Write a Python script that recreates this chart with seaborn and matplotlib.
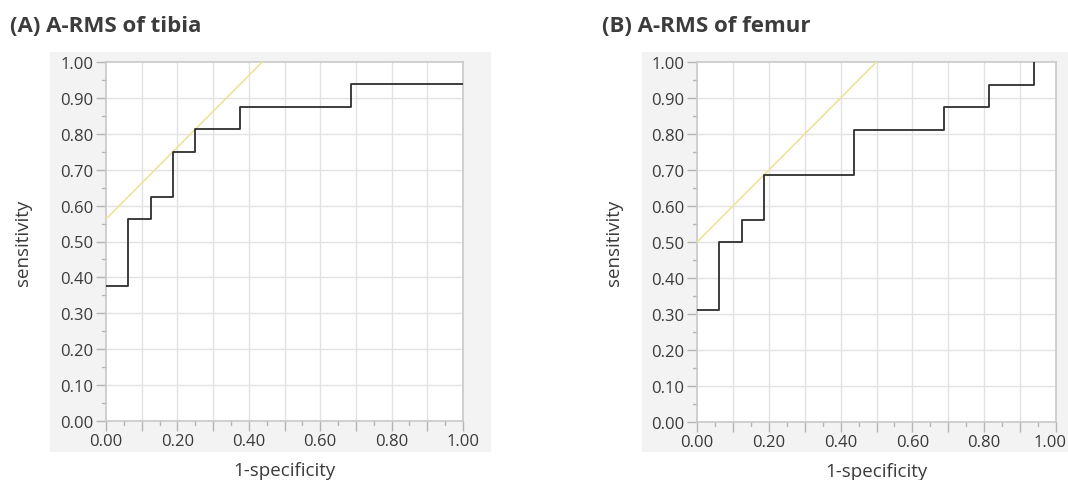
import numpy as np
import pandas as pd
import matplotlib
matplotlib.use("Agg")
import matplotlib.pyplot as plt
import matplotlib.transforms as mtransforms
import seaborn as sns
from matplotlib.ticker import FixedLocator
from matplotlib.patches import Rectangle

# ROC step points (1-specificity, sensitivity)
tibia_fpr = [0.0, 0.0625, 0.125, 0.1875, 0.25, 0.375, 0.6875, 1.0]
tibia_tpr = [0.375, 0.5625, 0.625, 0.75, 0.8125, 0.875, 0.9375, 0.9375]
femur_fpr = [0.0, 0.0625, 0.125, 0.1875, 0.4375, 0.6875, 0.8125, 0.9375]
femur_tpr = [0.3125, 0.5, 0.5625, 0.6875, 0.8125, 0.875, 0.9375, 1.0]

# tangent (slope 1) lines
tibia_tan_x = [0.0, 0.4375]
tibia_tan_y = [0.5625, 1.0]
femur_tan_x = [0.0, 0.5]
femur_tan_y = [0.5, 1.0]

titles = ["(A) A-RMS of tibia", "(B) A-RMS of femur"]
x_ticks = [0.0, 0.2, 0.4, 0.6, 0.8, 1.0]
y_ticks = [0.0, 0.1, 0.2, 0.3, 0.4, 0.5, 0.6, 0.7, 0.8, 0.9, 1.0]

sns.set_theme(style="white")
plt.rcParams['font.family'] = ['Open Sans', 'DejaVu Sans']

W, H = 1068, 481
fig = plt.figure(figsize=(W / 100, H / 100), dpi=100)

# gray panels behind each plot
for x0, x1 in [(50, 490), (642, 1068)]:
    rect = Rectangle((x0 / W, 1 - 452 / H), (x1 - x0) / W, (452 - 53) / H,
                     transform=fig.transFigure, color="#f3f3f3", zorder=-5)
    fig.add_artist(rect)

ax_a = fig.add_axes([106 / W, 1 - 422 / H, 357 / W, 359 / H])
ax_b = fig.add_axes([697 / W, 1 - 423 / H, 359 / W, 360 / H])

panels = [
    (ax_a, tibia_fpr, tibia_tpr, tibia_tan_x, tibia_tan_y, 10),
    (ax_b, femur_fpr, femur_tpr, femur_tan_x, femur_tan_y, 602),
]

text_col = "#3a3a3a"
for i, (ax, fx, fy, tx, ty, title_x) in enumerate(panels):
    df = pd.DataFrame({"fpr": fx, "tpr": fy})
    tan = pd.DataFrame({"x": tx, "y": ty})
    sns.lineplot(data=tan, x="x", y="y", ax=ax, color="#ebe49a", lw=1.2, zorder=3)
    sns.lineplot(data=df, x="fpr", y="tpr", ax=ax, estimator=None, sort=False,
                 drawstyle="steps-post", color="#2e2e2e", lw=1.3, zorder=4)

    ax.set_xlim(0, 1)
    ax.set_ylim(0, 1)
    ax.set_facecolor("white")

    ax.xaxis.set_major_locator(FixedLocator(x_ticks))
    ax.xaxis.set_minor_locator(FixedLocator([0.1, 0.3, 0.5, 0.7, 0.9]))
    ax.yaxis.set_major_locator(FixedLocator(y_ticks))
    ax.set_xticklabels([f"{v:.2f}" for v in x_ticks])
    ax.set_yticklabels([f"{v:.2f}" for v in y_ticks])

    # grid every 0.1
    for v in y_ticks[1:-1]:
        ax.axvline(v, color="#e2e2e2", lw=1, zorder=1)
        ax.axhline(v, color="#e2e2e2", lw=1, zorder=1)

    ax.tick_params(axis="both", which="major", direction="out", length=7, width=1,
                   color="#b5b5b5", labelsize=12, labelcolor=text_col, pad=2,
                   bottom=True, left=True)
    ax.tick_params(axis="x", which="minor", direction="out", length=7, width=1,
                   color="#b5b5b5", bottom=True)
    # small ticks at every 0.05
    for v in np.arange(0.05, 1.0, 0.1):
        ax.plot([v, v], [0, -0.012], color="#b5b5b5", lw=1, clip_on=False,
                transform=ax.get_xaxis_transform())
        ax.plot([0, -0.012], [v, v], color="#b5b5b5", lw=1, clip_on=False,
                transform=ax.get_yaxis_transform())

    for s in ax.spines.values():
        s.set_color("#c8c8c8")
        s.set_linewidth(1.2)

    ax.set_xlabel("1-specificity", fontsize=13.5, color=text_col, labelpad=8)
    ax.set_ylabel("sensitivity", fontsize=13.5, color=text_col, labelpad=20)

    fig.text(title_x / W, 1 - 26 / H, titles[i], fontsize=16, fontweight="bold",
             color="#3c3c3c", va="center", ha="left")

# keep the last x label of the right panel inside the picture
last = ax_b.get_xticklabels()[-1]
last.set_transform(last.get_transform() +
                   mtransforms.ScaledTranslation(-6 / 100, 0, fig.dpi_scale_trans))

fig.savefig("out.png", dpi=100)
